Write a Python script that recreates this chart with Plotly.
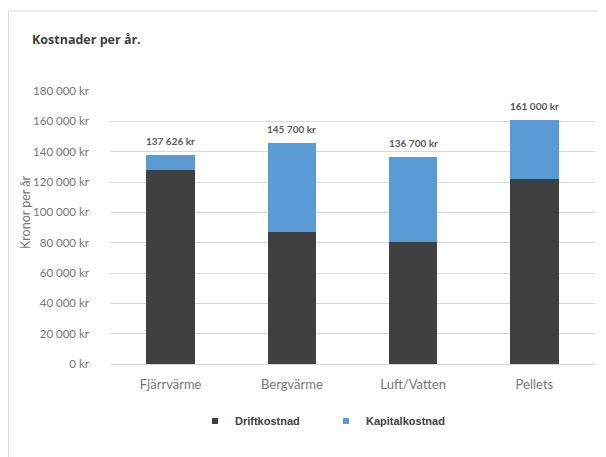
import plotly.graph_objects as go

categories = ["Fjärrvärme", "Bergvärme", "Luft/Vatten", "Pellets"]
drift = [127700, 87000, 80400, 121700]
kapital = [9926, 58700, 56300, 39300]
totals = [137626, 145700, 136700, 161000]
tick_vals = [0, 20000, 40000, 60000, 80000, 100000, 120000, 140000, 160000, 180000]
tick_text = ["0 kr", "20 000 kr", "40 000 kr", "60 000 kr", "80 000 kr", "100 000 kr",
             "120 000 kr", "140 000 kr", "160 000 kr", "180 000 kr"]
total_labels = ["137 626 kr", "145 700 kr", "136 700 kr", "161 000 kr"]
series_names = ["Driftkostnad", "Kapitalkostnad"]
series_colors = ["#404040", "#5B9BD5"]

W, H = 598, 449
L, R, T, B = 102, 11, 83, 93
pw, ph = W - L - R, H - T - B

fig = go.Figure()
for name, vals, col in zip(series_names, [drift, kapital], series_colors):
    fig.add_trace(go.Bar(x=categories, y=vals, name=name, marker_color=col,
                         marker_line_width=0, showlegend=False))
for name, col in zip(series_names, series_colors):
    fig.add_trace(go.Scatter(x=[None], y=[None], mode="markers", name=name,
                             marker=dict(symbol="square", size=6, color=col)))

for c, t, lab in zip(categories, totals, total_labels):
    fig.add_annotation(x=c, y=t, text="<b>" + lab + "</b>", showarrow=False,
                       yanchor="bottom", yshift=6,
                       font=dict(family="Lato", size=10, color="#595959"))

fig.add_annotation(xref="paper", yref="paper", x=(25 - 110) / pw, xanchor="center",
                   y=(364 - 212) / ph, yanchor="middle", text="Kronor per år",
                   textangle=-90, showarrow=False,
                   font=dict(family="Lato", size=12.5, color="#767676"))

fig.add_shape(type="rect", xref="paper", yref="paper",
              x0=(0.5 - L) / pw, x1=1.2, y0=-0.5, y1=(ph + T - 3) / ph,
              line=dict(color="#d9d9d9", width=1), layer="below")

fig.update_layout(
    width=W, height=H,
    barmode="stack", bargap=0.6,
    paper_bgcolor="white", plot_bgcolor="white",
    margin=dict(l=L, r=R, t=T, b=B, autoexpand=False),
    title=dict(text="<b>Kostnader per år.</b>", x=24 / W, xanchor="left",
               y=1 - 32 / H, yanchor="middle",
               font=dict(family="Open Sans", size=12.5, color="#404040")),
    legend=dict(orientation="h", x=(195 - 110) / pw, xanchor="left",
                y=(364 - 421) / ph, yanchor="middle",
                font=dict(family="Liberation Sans", size=11, color="#404040", weight="bold"),
                itemwidth=30, traceorder="normal",
                entrywidth=86, entrywidthmode="pixels"),
    yaxis=dict(range=[0, 180000], tickvals=tick_vals, ticktext=tick_text,
               gridcolor="#d9d9d9", gridwidth=1, zeroline=False, showline=False,
               tickfont=dict(family="Lato", size=11.5, color="#767676"),
               ticks="", ticklabelstandoff=20),
    xaxis=dict(showline=True, linecolor="#d9d9d9", linewidth=1, ticks="",
               ticklabelstandoff=8,
               tickfont=dict(family="Lato", size=13, color="#767676")),
)

fig.write_html("out.html")
